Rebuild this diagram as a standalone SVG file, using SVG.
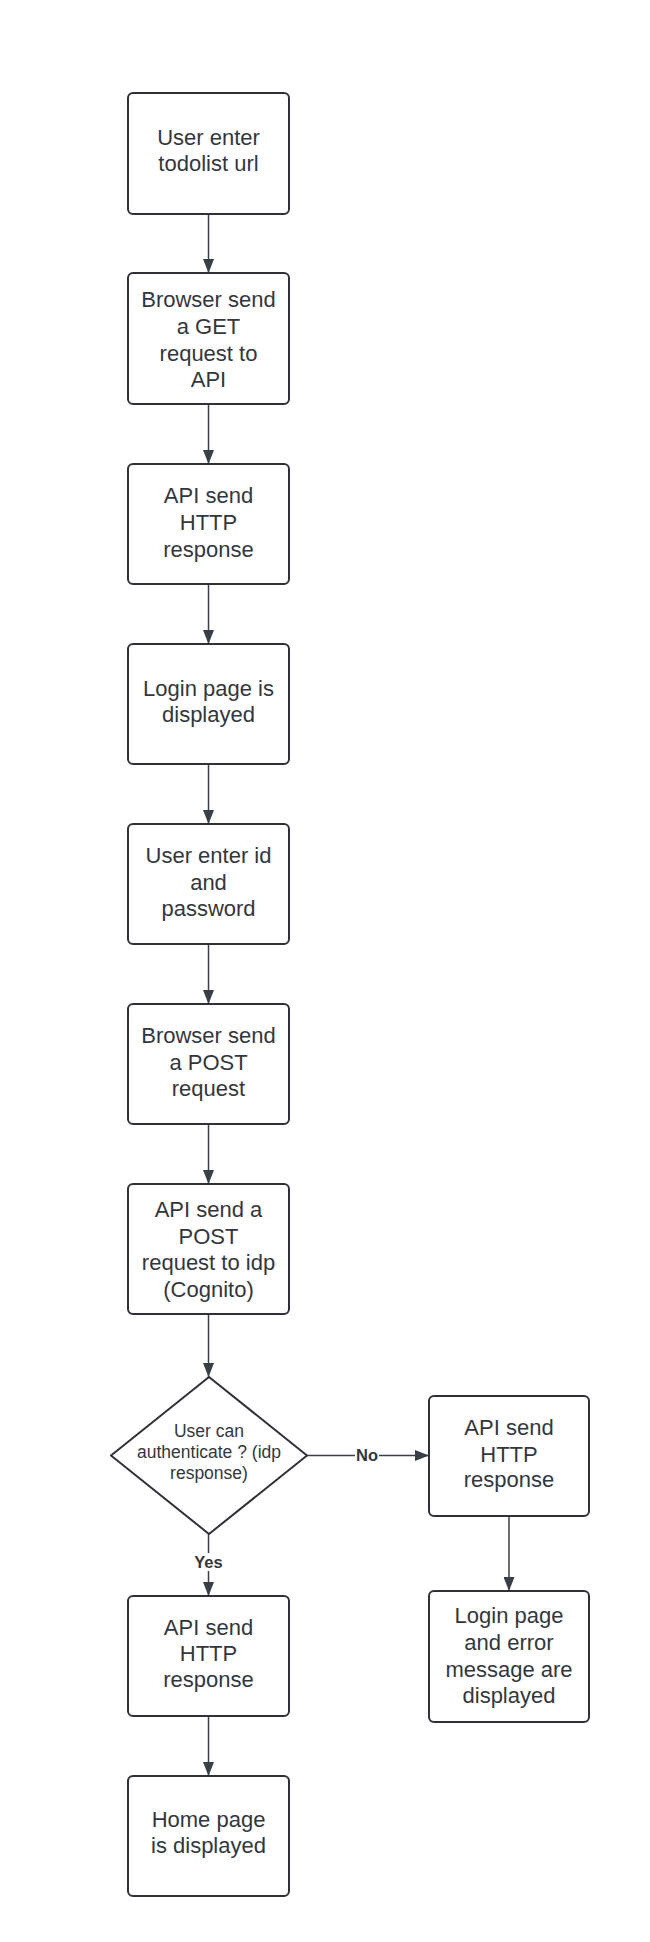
<svg xmlns="http://www.w3.org/2000/svg" width="650" height="1942" viewBox="0 0 650 1942">
<style>
.box{fill:#ffffff;stroke:#2e3238;stroke-width:2}
.t{font-family:"Liberation Sans",Arial,sans-serif;font-size:22px;fill:#33373d;text-anchor:middle}
.ts{font-family:"Liberation Sans",Arial,sans-serif;font-size:17.5px;fill:#33373d;text-anchor:middle}
.lbl{font-family:"Liberation Sans",Arial,sans-serif;font-size:16.5px;font-weight:bold;fill:#33373d;text-anchor:middle}
.c{stroke:#3a3f47;stroke-width:1.5;fill:none}
</style>
<defs>
<marker id="ah" markerWidth="14" markerHeight="11" refX="14" refY="5.5" viewBox="0 0 14 11" orient="auto" markerUnits="userSpaceOnUse">
<path d="M0,0 L14,5.5 L0,11 Z" fill="#3a3f47"/>
</marker>
</defs>
<rect width="650" height="1942" fill="#ffffff"/>
<g id="connectors">
<line class="c" x1="208.5" y1="214" x2="208.5" y2="273" marker-end="url(#ah)"/>
<line class="c" x1="208.5" y1="404" x2="208.5" y2="464" marker-end="url(#ah)"/>
<line class="c" x1="208.5" y1="584" x2="208.5" y2="644" marker-end="url(#ah)"/>
<line class="c" x1="208.5" y1="764" x2="208.5" y2="824" marker-end="url(#ah)"/>
<line class="c" x1="208.5" y1="944" x2="208.5" y2="1004" marker-end="url(#ah)"/>
<line class="c" x1="208.5" y1="1124" x2="208.5" y2="1184" marker-end="url(#ah)"/>
<line class="c" x1="208.5" y1="1314" x2="208.5" y2="1377" marker-end="url(#ah)"/>
<line class="c" x1="208.5" y1="1534" x2="208.5" y2="1596" marker-end="url(#ah)"/>
<line class="c" x1="307" y1="1455.5" x2="429" y2="1455.5" marker-end="url(#ah)"/>
<line class="c" x1="509" y1="1516" x2="509" y2="1591" marker-end="url(#ah)"/>
<line class="c" x1="208.5" y1="1716" x2="208.5" y2="1776" marker-end="url(#ah)"/>
<rect x="355" y="1446" width="24" height="18" fill="#ffffff"/>
<text class="lbl" x="367" y="1461">No</text>
<rect x="193" y="1553" width="31" height="18" fill="#ffffff"/>
<text class="lbl" x="208.5" y="1568">Yes</text>
</g>
<g id="n1">
<rect class="box" x="128" y="93" width="161" height="121" rx="5"/>
<text class="t" x="208.5" y="145">User enter</text>
<text class="t" x="208.5" y="171">todolist url</text>
</g>
<g id="n2">
<rect class="box" x="128" y="273" width="161" height="131" rx="5"/>
<text class="t" x="208.5" y="307">Browser send</text>
<text class="t" x="208.5" y="334">a GET</text>
<text class="t" x="208.5" y="361">request to</text>
<text class="t" x="208.5" y="387">API</text>
</g>
<g id="n3">
<rect class="box" x="128" y="464" width="161" height="120" rx="5"/>
<text class="t" x="208.5" y="503">API send</text>
<text class="t" x="208.5" y="530">HTTP</text>
<text class="t" x="208.5" y="557">response</text>
</g>
<g id="n4">
<rect class="box" x="128" y="644" width="161" height="120" rx="5"/>
<text class="t" x="208.5" y="696">Login page is</text>
<text class="t" x="208.5" y="722">displayed</text>
</g>
<g id="n5">
<rect class="box" x="128" y="824" width="161" height="120" rx="5"/>
<text class="t" x="208.5" y="863">User enter id</text>
<text class="t" x="208.5" y="890">and</text>
<text class="t" x="208.5" y="916">password</text>
</g>
<g id="n6">
<rect class="box" x="128" y="1004" width="161" height="120" rx="5"/>
<text class="t" x="208.5" y="1043">Browser send</text>
<text class="t" x="208.5" y="1070">a POST</text>
<text class="t" x="208.5" y="1096">request</text>
</g>
<g id="n7">
<rect class="box" x="128" y="1184" width="161" height="130" rx="5"/>
<text class="t" x="208.5" y="1217">API send a</text>
<text class="t" x="208.5" y="1244">POST</text>
<text class="t" x="208.5" y="1270">request to idp</text>
<text class="t" x="208.5" y="1297">(Cognito)</text>
</g>
<g id="decision">
<path class="box" d="M209,1377 L307,1455.5 L209,1534 L111,1455.5 Z" stroke-linejoin="round"/>
<text class="ts" x="209" y="1437">User can</text>
<text class="ts" x="209" y="1458">authenticate ? (idp</text>
<text class="ts" x="209" y="1479">response)</text>
</g>
<g id="n8">
<rect class="box" x="429" y="1396" width="160" height="120" rx="5"/>
<text class="t" x="509" y="1435">API send</text>
<text class="t" x="509" y="1462">HTTP</text>
<text class="t" x="509" y="1487">response</text>
</g>
<g id="n9">
<rect class="box" x="429" y="1591" width="160" height="131" rx="5"/>
<text class="t" x="509" y="1623">Login page</text>
<text class="t" x="509" y="1650">and error</text>
<text class="t" x="509" y="1677">message are</text>
<text class="t" x="509" y="1703">displayed</text>
</g>
<g id="n10">
<rect class="box" x="128" y="1596" width="161" height="120" rx="5"/>
<text class="t" x="208.5" y="1635">API send</text>
<text class="t" x="208.5" y="1661">HTTP</text>
<text class="t" x="208.5" y="1687">response</text>
</g>
<g id="n11">
<rect class="box" x="128" y="1776" width="161" height="120" rx="5"/>
<text class="t" x="208.5" y="1827">Home page</text>
<text class="t" x="208.5" y="1853">is displayed</text>
</g>
</svg>
